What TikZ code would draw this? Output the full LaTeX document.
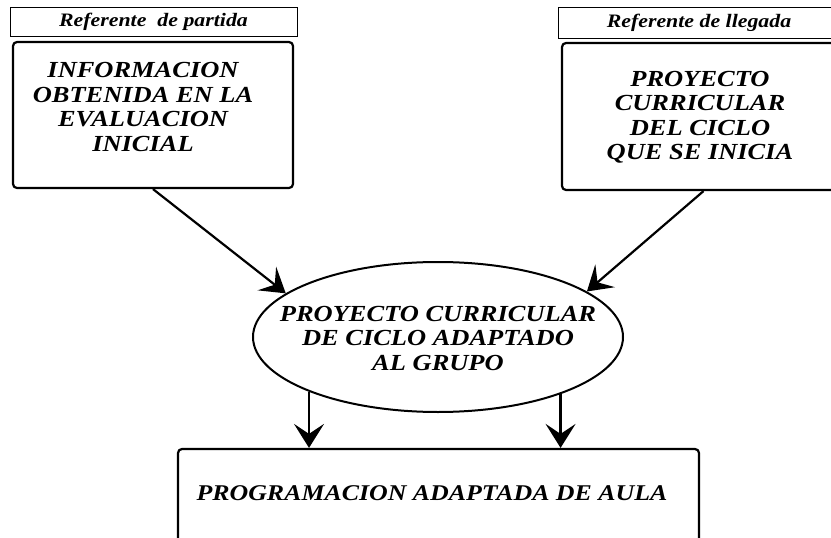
\documentclass[tikz,border=0pt]{standalone}
\usepackage{fontspec}
\setmainfont{Liberation Serif}[FakeStretch=1.15]
\usetikzlibrary{arrows.meta,shapes.geometric}
\begin{document}
\begin{tikzpicture}
[x=1pt,y=-1pt,
  tagdecorate/.style={draw,line width=0.8pt,inner sep=0pt,%
    font=\fontsize{19}{21}\selectfont\bfseries\itshape},
  boxdecorate/.style={draw,line width=2.2pt,rounded corners=4pt,inner sep=0pt},
  textdecorate/.style={align=center,%
    font=\fontsize{23}{24.5}\selectfont\bfseries\itshape},
  linedecorate/.style={-{Stealth[length=24pt,width=30pt,inset=10pt]},line width=2.2pt}]
\useasboundingbox (0,0) rectangle (831,538);
\clip (0,0) rectangle (831,538);
%% label boxes
\foreach \nodename/\x/\y/\w/\h/\tag in {
  partida/153.5/21.5/287/29/{Referente\ \ de partida},
  llegada tag/699/22.5/282/31/{Referente de llegada}} {
  \node (\nodename) at (\x,\y) [tagdecorate,minimum width=\w pt,minimum height=\h pt] {\tag};
}
%% boxes
\node (inicial) at (153,115) [boxdecorate,minimum width=280pt,minimum height=146pt] {};
\node (llegada) at (703.5,116.5) [boxdecorate,minimum width=283pt,minimum height=147pt] {};
\node (aula) at (438.5,509) [boxdecorate,minimum width=521pt,minimum height=120pt] {};
\node (grupo) at (438,337) [draw,ellipse,line width=2pt,inner sep=0pt,%
  minimum width=370pt,minimum height=150pt] {};
%% texts
\node (inicial text) at (143,107) [textdecorate] {INFORMACION\\OBTENIDA EN LA\\EVALUACION\\INICIAL};
\node (llegada text) at (700,117) [textdecorate] {PROYECTO\\CURRICULAR\\DEL CICLO\\QUE SE INICIA};
\node (grupo text) at (438,338) [textdecorate] {PROYECTO CURRICULAR\\DE CICLO ADAPTADO\\AL GRUPO};
\node (aula text) at (432,493) [textdecorate,font=\fontsize{22.5}{24}\selectfont\bfseries\itshape]
  {PROGRAMACION ADAPTADA DE AULA};
%% arrows
\draw[linedecorate] (inicial.south) -- (grupo.164);
\draw[linedecorate] (llegada.south) -- (grupo.17);
\foreach \angle in {203,335} {
  \draw[linedecorate] (grupo.\angle) -- (grupo.\angle |- aula.north);
}
\end{tikzpicture}
\end{document}
